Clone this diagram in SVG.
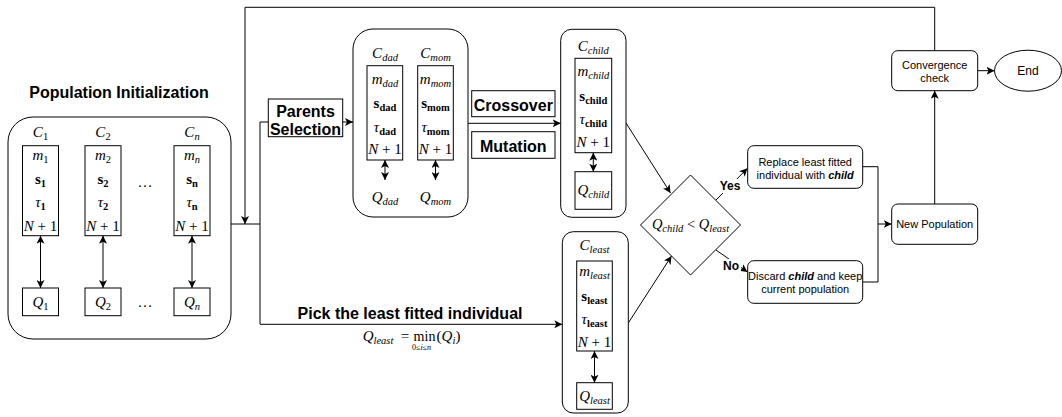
<svg xmlns="http://www.w3.org/2000/svg" width="1062" height="417" viewBox="0 0 1062 417">
<defs>
<marker id="ar" viewBox="0 0 10 10" refX="10" refY="5" markerWidth="8" markerHeight="8" markerUnits="userSpaceOnUse" orient="auto-start-reverse">
<path d="M0,0 L10,5 L0,10 L2.5,5 z" fill="#000"/>
</marker>
</defs>
<style>
.box{fill:#fff;stroke:#000;stroke-width:1}
.ln{fill:none;stroke:#000;stroke-width:1}
.a{marker-end:url(#ar)}
.d{marker-start:url(#ar);marker-end:url(#ar)}
.m{font-family:"Liberation Serif","DejaVu Serif",serif;font-size:15px;text-anchor:middle;fill:#000}
.it{font-style:italic}
.bf{font-weight:bold}
.sb{font-size:10.5px}
.n1{font-size:15px}
.t{font-family:"Liberation Sans",Arial,Helvetica,sans-serif;font-size:11px;text-anchor:middle;fill:#000}
.hb{font-family:"Liberation Sans",Arial,Helvetica,sans-serif;font-size:16px;font-weight:bold;text-anchor:middle;fill:#000}
.yn{font-family:"Liberation Sans",Arial,Helvetica,sans-serif;font-size:12px;font-weight:bold;text-anchor:middle;fill:#000}
</style>
<rect width="1062" height="417" fill="#fff"/>

<g id="connectors">
<polyline class="ln" points="231,224 260,224"/>
<polyline class="ln" points="260,122 260,324"/>
<polyline class="ln a" points="260,122 353,122"/>
<polyline class="ln a" points="468,123.3 560.7,123.3"/>
<polyline class="ln a" points="260,324.3 562.3,324.3"/>
<polyline class="ln a" points="934.7,50.7 934.7,7.3 245,7.3 245,224"/>
<polyline class="ln a" points="626,123 670.5,193"/>
<polyline class="ln a" points="628.3,323 671.5,256"/>
<polyline class="ln a" points="716,200 747.5,168.3"/>
<polyline class="ln a" points="716,250 747.5,272"/>
<polyline class="ln a" points="862.7,166.7 878,166.7 878,224 891.7,224"/>
<polyline class="ln" points="862.7,282 878,282 878,224"/>
<polyline class="ln a" points="934.7,204 934.7,90.7"/>
<polyline class="ln a" points="977.7,70.7 994.5,70.7"/>
</g>

<g id="title">
<text class="hb" x="119" y="97.7">Population Initialization</text>
</g>

<g id="population">
<rect class="box" x="8" y="117" width="223" height="222" rx="25"/>
<rect class="box" x="22.5" y="145.7" width="36" height="90"/>
<rect class="box" x="85" y="145.7" width="36" height="90"/>
<rect class="box" x="174" y="145.7" width="36" height="90"/>
<rect class="box" x="22.5" y="288" width="36" height="27.7"/>
<rect class="box" x="85" y="288" width="36" height="27.7"/>
<rect class="box" x="174" y="288" width="36" height="27.7"/>
<line class="ln d" x1="40.5" y1="235.7" x2="40.5" y2="288"/>
<line class="ln d" x1="103" y1="235.7" x2="103" y2="288"/>
<line class="ln d" x1="192" y1="235.7" x2="192" y2="288"/>
<text class="m" x="40.5" y="136.5"><tspan class="it">C</tspan><tspan class="sb" dy="3">1</tspan></text>
<text class="m" x="103" y="136.5"><tspan class="it">C</tspan><tspan class="sb" dy="3">2</tspan></text>
<text class="m" x="192" y="136.5"><tspan class="it">C</tspan><tspan class="sb it" dy="3">n</tspan></text>
<text class="m" x="40.5" y="160"><tspan class="it">m</tspan><tspan class="sb" dy="3">1</tspan></text>
<text class="m" x="103" y="160"><tspan class="it">m</tspan><tspan class="sb" dy="3">2</tspan></text>
<text class="m" x="192" y="160"><tspan class="it">m</tspan><tspan class="sb it" dy="3">n</tspan></text>
<text class="m bf" x="40.5" y="184">s<tspan class="sb" dy="3">1</tspan></text>
<text class="m bf" x="103" y="184">s<tspan class="sb" dy="3">2</tspan></text>
<text class="m bf" x="192" y="184">s<tspan class="sb" dy="3">n</tspan></text>
<text class="m" x="40.5" y="207"><tspan class="it">τ</tspan><tspan class="sb bf" dy="3">1</tspan></text>
<text class="m" x="103" y="207"><tspan class="it">τ</tspan><tspan class="sb bf" dy="3">2</tspan></text>
<text class="m" x="192" y="207"><tspan class="it">τ</tspan><tspan class="sb bf" dy="3">n</tspan></text>
<text class="m n1" x="40.5" y="231"><tspan class="it">N</tspan> + 1</text>
<text class="m n1" x="103" y="231"><tspan class="it">N</tspan> + 1</text>
<text class="m n1" x="192" y="231"><tspan class="it">N</tspan> + 1</text>
<text class="m" x="145" y="187">…</text>
<text class="m" x="145" y="307">…</text>
<text class="m" x="40.5" y="306.5"><tspan class="it">Q</tspan><tspan class="sb" dy="3">1</tspan></text>
<text class="m" x="103" y="306.5"><tspan class="it">Q</tspan><tspan class="sb" dy="3">2</tspan></text>
<text class="m" x="192" y="306.5"><tspan class="it">Q</tspan><tspan class="sb it" dy="3">n</tspan></text>
</g>

<g id="parents-selection">
<rect class="box" x="268.3" y="99" width="74.4" height="37.7"/>
<text class="hb" x="305.5" y="116.5">Parents</text>
<text class="hb" x="305.5" y="135">Selection</text>
</g>

<g id="parents">
<rect class="box" x="353" y="29" width="115" height="188" rx="20"/>
<rect class="box" x="367" y="65.7" width="35.7" height="94.3"/>
<rect class="box" x="417.7" y="65.7" width="35.6" height="94.3"/>
<line class="ln d" x1="385" y1="160" x2="385" y2="180"/>
<line class="ln d" x1="435.5" y1="160" x2="435.5" y2="180"/>
<text class="m" x="385" y="57.5"><tspan class="it">C</tspan><tspan class="sb it" dy="3">dad</tspan></text>
<text class="m" x="435.5" y="57.5"><tspan class="it">C</tspan><tspan class="sb it" dy="3">mom</tspan></text>
<text class="m" x="385" y="83.5"><tspan class="it">m</tspan><tspan class="sb it" dy="3">dad</tspan></text>
<text class="m" x="435.5" y="83.5"><tspan class="it">m</tspan><tspan class="sb it" dy="3">mom</tspan></text>
<text class="m bf" x="385" y="107.5">s<tspan class="sb" dy="3">dad</tspan></text>
<text class="m bf" x="435.5" y="107.5">s<tspan class="sb" dy="3">mom</tspan></text>
<text class="m" x="385" y="131.5"><tspan class="it">τ</tspan><tspan class="sb bf" dy="3">dad</tspan></text>
<text class="m" x="435.5" y="131.5"><tspan class="it">τ</tspan><tspan class="sb bf" dy="3">mom</tspan></text>
<text class="m n1" x="385" y="153.5"><tspan class="it">N</tspan> + 1</text>
<text class="m n1" x="435.5" y="153.5"><tspan class="it">N</tspan> + 1</text>
<text class="m" x="385" y="201.5"><tspan class="it">Q</tspan><tspan class="sb it" dy="3">dad</tspan></text>
<text class="m" x="435.5" y="201.5"><tspan class="it">Q</tspan><tspan class="sb it" dy="3">mom</tspan></text>
</g>

<g id="crossover">
<rect class="box" x="471.7" y="90.7" width="83.3" height="26"/>
<text class="hb" x="513.3" y="110.8">Crossover</text>
</g>
<g id="mutation">
<rect class="box" x="471.7" y="131.7" width="83.3" height="26.6"/>
<text class="hb" x="513.3" y="152.4">Mutation</text>
</g>

<g id="child">
<rect class="box" x="560.7" y="29.3" width="65.3" height="188" rx="11"/>
<rect class="box" x="575" y="58.3" width="36.7" height="94.4"/>
<rect class="box" x="575" y="171.7" width="36.7" height="37.6"/>
<line class="ln d" x1="593.3" y1="152.7" x2="593.3" y2="171.7"/>
<text class="m" x="593.3" y="51"><tspan class="it">C</tspan><tspan class="sb it" dy="3">child</tspan></text>
<text class="m" x="593.3" y="76"><tspan class="it">m</tspan><tspan class="sb it" dy="3">child</tspan></text>
<text class="m bf" x="593.3" y="100.5">s<tspan class="sb" dy="3">child</tspan></text>
<text class="m" x="593.3" y="123.5"><tspan class="it">τ</tspan><tspan class="sb bf" dy="3">child</tspan></text>
<text class="m n1" x="593.3" y="147"><tspan class="it">N</tspan> + 1</text>
<text class="m" x="593.3" y="195"><tspan class="it">Q</tspan><tspan class="sb it" dy="3">child</tspan></text>
</g>

<g id="pick-label">
<text class="hb" x="410" y="318.5">Pick the least fitted individual</text>
<text class="m" x="378" y="340.5"><tspan class="it">Q</tspan><tspan class="sb it" dy="3">least</tspan></text>
<text class="m" x="405" y="340.5">=</text>
<text class="m" x="424.5" y="340.5" style="font-size:14px">min</text>
<text class="m" x="421.5" y="349.5" style="font-size:8px">0≤<tspan class="it">i</tspan>≤<tspan class="it">n</tspan></text>
<text class="m" x="448.5" y="340.5">(<tspan class="it">Q</tspan><tspan class="sb it" dy="3">i</tspan><tspan dy="-3">)</tspan></text>
</g>

<g id="least">
<rect class="box" x="562.3" y="231.7" width="66" height="181.3" rx="11"/>
<rect class="box" x="576.7" y="261" width="35.6" height="90"/>
<rect class="box" x="576.7" y="382.7" width="35.6" height="26.6"/>
<line class="ln d" x1="594.5" y1="351" x2="594.5" y2="382.7"/>
<text class="m" x="594.5" y="250"><tspan class="it">C</tspan><tspan class="sb it" dy="3">least</tspan></text>
<text class="m" x="594.5" y="275.5"><tspan class="it">m</tspan><tspan class="sb it" dy="3">least</tspan></text>
<text class="m bf" x="594.5" y="301">s<tspan class="sb" dy="3">least</tspan></text>
<text class="m" x="594.5" y="323.5"><tspan class="it">τ</tspan><tspan class="sb bf" dy="3">least</tspan></text>
<text class="m n1" x="594.5" y="347"><tspan class="it">N</tspan> + 1</text>
<text class="m" x="594.5" y="400.5"><tspan class="it">Q</tspan><tspan class="sb it" dy="3">least</tspan></text>
</g>

<g id="decision">
<polygon class="box" points="690.5,175 740.5,225 690.5,275 640.5,225"/>
<text class="m" x="690.5" y="229" style="font-size:14.5px"><tspan class="it">Q</tspan><tspan class="sb it" dy="3">child</tspan><tspan dy="-3"> &lt; </tspan><tspan class="it">Q</tspan><tspan class="sb it" dy="3">least</tspan></text>
</g>

<g id="yes-label">
<rect x="719" y="179" width="22" height="14" fill="#fff"/>
<text class="yn" x="730" y="190.3">Yes</text>
</g>
<g id="no-label">
<rect x="721" y="259" width="20" height="14" fill="#fff"/>
<text class="yn" x="731" y="270.3">No</text>
</g>

<g id="replace">
<rect class="box" x="747.7" y="145.7" width="115" height="42.6" rx="6"/>
<text class="t" x="805.2" y="165.5">Replace least fitted</text>
<text class="t" x="805.2" y="179">individual with <tspan font-weight="bold" font-style="italic">child</tspan></text>
</g>

<g id="discard">
<rect class="box" x="747.7" y="260.7" width="115" height="42.6" rx="6"/>
<text class="t" x="805.2" y="279.7">Discard <tspan font-weight="bold" font-style="italic">child</tspan> and keep</text>
<text class="t" x="805.2" y="293.3">current population</text>
</g>

<g id="new-population">
<rect class="box" x="891.7" y="204" width="86" height="40.3" rx="6"/>
<text class="t" x="934.7" y="228">New Population</text>
</g>

<g id="convergence">
<rect class="box" x="891.7" y="50.7" width="86" height="40" rx="6"/>
<text class="t" x="934.7" y="69">Convergence</text>
<text class="t" x="934.7" y="82.3">check</text>
</g>

<g id="end">
<ellipse class="box" cx="1028" cy="70.7" rx="33.5" ry="20.5"/>
<text class="t" x="1028" y="75" style="font-size:12px">End</text>
</g>
</svg>
